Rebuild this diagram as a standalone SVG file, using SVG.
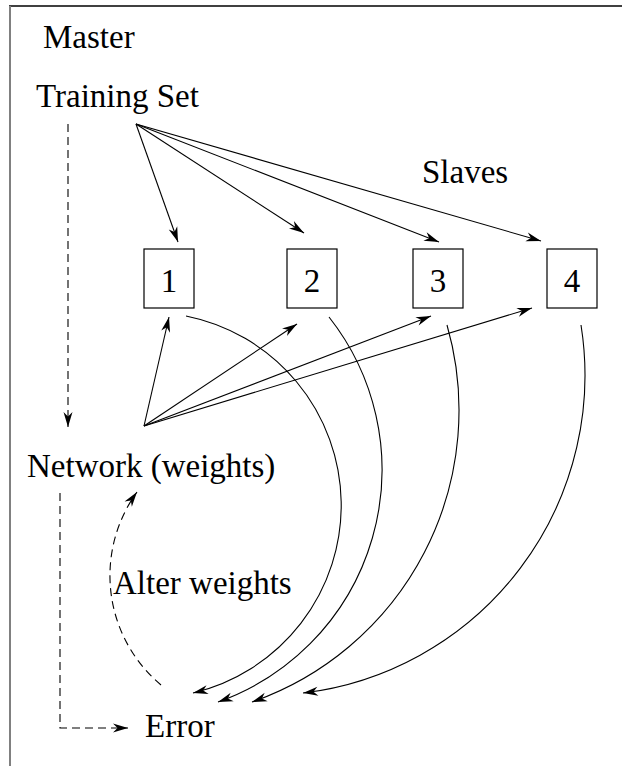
<svg xmlns="http://www.w3.org/2000/svg" width="622" height="766" viewBox="0 0 622 766">
<style>
  text { font-family: "Liberation Serif", "Times New Roman", serif; font-size: 33px; fill: #000; }
  .num { text-anchor: middle; }
  .box { fill: #fff; stroke: #000; stroke-width: 1.2; }
  .c { fill: none; stroke: #000; stroke-width: 1.1; marker-end: url(#ah); }
  .d { fill: none; stroke: #000; stroke-width: 1.1; stroke-dasharray: 8 5; marker-end: url(#ah); }
</style>
<defs>
  <marker id="ah" markerUnits="userSpaceOnUse" markerWidth="20" markerHeight="20" refX="0" refY="0" orient="auto" overflow="visible">
    <path d="M0,0 L-15,-4.5 L-10.5,0 L-15,4.5 Z" fill="#000" stroke="none"/>
  </marker>
</defs>
<rect width="622" height="766" fill="#fff"/>
<g id="frame">
  <line x1="9" y1="6" x2="622" y2="6" stroke="#000" stroke-width="1.5"/>
  <line x1="10" y1="6" x2="10" y2="766" stroke="#808080" stroke-width="2"/>
</g>
<g id="master"><text x="43" y="48">Master</text></g>
<g id="training-set"><text x="36" y="107">Training Set</text></g>
<g id="slaves"><text x="422" y="183">Slaves</text></g>
<g id="slave1"><rect class="box" x="144" y="249" width="50" height="59"/><text class="num" x="169" y="292">1</text></g>
<g id="slave2"><rect class="box" x="287" y="249" width="50" height="59"/><text class="num" x="312" y="292">2</text></g>
<g id="slave3"><rect class="box" x="413" y="249" width="50" height="59"/><text class="num" x="438" y="292">3</text></g>
<g id="slave4"><rect class="box" x="547" y="249" width="50" height="59"/><text class="num" x="572" y="292">4</text></g>
<g id="network"><text x="27" y="477">Network (weights)</text></g>
<g id="alter-weights"><text x="113" y="594">Alter weights</text></g>
<g id="error"><text x="145" y="737">Error</text></g>
<g id="connectors">
  <path class="c" d="M136,124 L178,242"/>
  <path class="c" d="M136,124 L304,233"/>
  <path class="c" d="M136,124 L439,242"/>
  <path class="c" d="M136,124 L541,241"/>
  <path class="c" d="M144,426 L169,317"/>
  <path class="c" d="M144,426 L297,324"/>
  <path class="c" d="M144,426 L431,316"/>
  <path class="c" d="M144,426 L532,308"/>
  <path class="c" d="M186,316 A193,193 0 0 1 193,693"/>
  <path class="c" d="M329,317 A246.5,246.5 0 0 1 218,702"/>
  <path class="c" d="M447,325 A309,309 0 0 1 252,702"/>
  <path class="c" d="M581,325 A320,320 0 0 1 303,693"/>
  <path class="d" d="M68,124 L68,427"/>
  <path class="d" d="M60,493 L60,728 L128,728"/>
  <path class="d" d="M161,685 A142.7,142.7 0 0 1 137,492"/>
</g>
</svg>
